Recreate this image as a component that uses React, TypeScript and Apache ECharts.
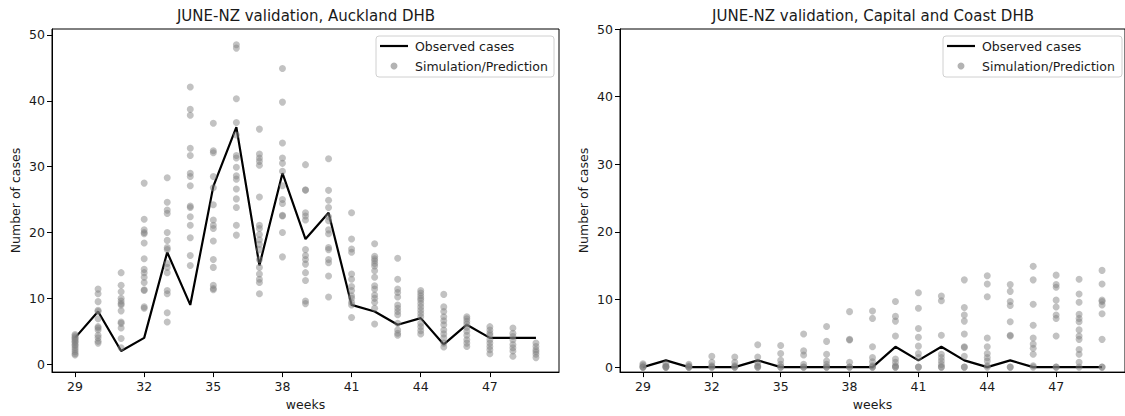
import React, { useEffect, useRef } from "react";
import * as echarts from "echarts";

const weeks = [29, 30, 31, 32, 33, 34, 35, 36, 37, 38, 39, 40, 41, 42, 43, 44, 45, 46, 47, 48, 49];
const xTicks = [29, 32, 35, 38, 41, 44, 47];
const yTicks = [0, 10, 20, 30, 40, 50];

const aucklandObserved = [4, 8, 2, 4, 17, 9, 27, 36, 15, 29, 19, 23, 9, 8, 6, 7, 3, 6, 4, 4, 4];
const capitalObserved = [0, 1, 0, 0, 0, 1, 0, 0, 0, 0, 0, 3, 1, 3, 1, 0, 1, 0, 0, 0, 0];

// simulated values, one list per week (29..49)
const aucklandSim = [
  [4.5, 4.3, 4.1, 3.9, 3.7, 3.5, 3.3, 3.0, 2.8, 2.5, 2.2, 1.9, 1.6, 1.4],
  [11.4, 10.7, 9.5, 8.2, 8.0, 6.9, 5.7, 5.5, 5.2, 4.4, 4.0, 3.5, 3.2],
  [13.9, 12.0, 11.0, 10.0, 9.6, 9.2, 9.0, 8.1, 6.4, 6.2, 5.5, 3.9, 2.5],
  [27.5, 22.0, 20.4, 20.0, 19.8, 18.4, 16.0, 14.4, 13.9, 13.2, 12.4, 11.3, 11.2, 8.7, 8.5],
  [28.3, 24.6, 23.4, 22.9, 20.0, 18.8, 17.7, 17.4, 15.3, 14.7, 13.9, 11.2, 10.7, 7.8, 6.4],
  [42.1, 38.7, 37.8, 32.8, 31.7, 29.0, 28.5, 27.1, 24.0, 23.8, 22.4, 21.1, 19.2, 16.5, 15.0],
  [36.6, 32.4, 32.1, 28.5, 26.8, 24.2, 21.9, 21.1, 20.6, 18.7, 15.9, 14.7, 12.0, 11.5, 11.3],
  [48.5, 48.0, 40.3, 36.7, 34.8, 31.7, 31.3, 29.9, 28.6, 28.1, 26.6, 25.1, 23.8, 21.1, 19.6],
  [35.7, 31.9, 31.3, 30.8, 30.2, 25.4, 21.1, 20.6, 19.7, 18.9, 18.2, 17.4, 15.9, 14.7, 13.7, 12.9, 12.4, 10.7],
  [44.9, 39.8, 33.6, 31.3, 30.5, 29.3, 27.1, 25.0, 24.4, 22.6, 22.5, 20.0, 16.3],
  [30.3, 26.5, 26.4, 23.0, 22.5, 21.9, 17.4, 16.5, 15.9, 15.2, 13.9, 12.7, 9.6, 9.2],
  [31.2, 26.4, 24.9, 23.8, 22.4, 21.8, 20.4, 19.8, 17.7, 17.4, 15.9, 15.4, 13.4, 10.2],
  [23.0, 19.0, 17.5, 17.0, 13.7, 12.9, 11.8, 11.2, 10.4, 10.0, 9.4, 9.0, 7.1],
  [18.3, 16.4, 16.0, 15.7, 15.3, 14.9, 14.2, 13.2, 11.9, 11.4, 10.5, 10.0, 9.4, 8.5, 6.1],
  [16.1, 12.9, 11.4, 10.9, 10.2, 9.0, 8.5, 8.0, 7.5, 6.2, 5.2, 4.7, 4.4],
  [11.2, 10.8, 10.4, 10.0, 9.7, 9.2, 8.7, 8.2, 7.7, 7.2, 6.2, 5.7, 5.1, 4.6],
  [10.6, 8.7, 8.0, 7.2, 6.6, 6.0, 5.2, 4.6, 4.0, 3.2, 2.6],
  [7.2, 6.9, 6.5, 6.1, 5.6, 5.0, 4.4, 3.7, 3.2, 2.7],
  [5.7, 5.2, 4.7, 4.4, 3.7, 3.2, 2.7, 2.2, 1.6],
  [5.5, 4.7, 4.2, 3.7, 3.0, 2.5, 2.0, 1.2],
  [3.2, 2.7, 2.2, 1.9, 1.5, 1.0],
];

const capitalSim = [
  [0.5, 0.3, 0, 0, 0],
  [0.5, 0.2, 0, 0, 0],
  [0.4, 0.2, 0, 0, 0],
  [1.6, 0.7, 0.2, 0, 0],
  [1.5, 0.7, 0.2, 0, 0],
  [3.3, 1.5, 0.7, 0.2, 0, 0],
  [3.2, 2.0, 1.0, 0.4, 0, 0],
  [4.9, 2.4, 1.8, 0.4, 0, 0],
  [6.0, 3.8, 1.9, 0.9, 0.4, 0, 0],
  [8.2, 4.1, 4.0, 0.7, 0, 0],
  [8.3, 7.2, 3.0, 1.4, 0.8, 0.2, 0, 0],
  [9.7, 7.5, 6.8, 4.6, 1.2, 0.7, 0.2, 0, 0],
  [11.0, 8.7, 5.7, 4.4, 3.1, 2.0, 1.4, 0, 0],
  [10.5, 9.8, 4.7, 1.9, 1.4, 0.9, 0.4, 0, 0],
  [12.9, 8.8, 7.7, 6.8, 4.9, 3.0, 2.9, 1.6, 0, 0],
  [13.5, 12.3, 10.4, 4.3, 3.0, 2.0, 1.4, 0.9, 0.2, 0],
  [12.2, 11.2, 9.7, 9.1, 6.7, 4.7, 4.6, 0, 0],
  [14.9, 12.9, 9.3, 6.2, 4.3, 3.4, 2.8, 1.9, 0.2, 0],
  [13.6, 12.2, 11.8, 9.9, 8.9, 7.7, 7.2, 4.6, 0, 0],
  [13.0, 10.8, 9.6, 7.8, 7.2, 6.7, 5.5, 4.6, 4.1, 2.6, 1.9, 0.7, 0],
  [14.3, 12.3, 9.9, 9.7, 9.2, 7.9, 4.1, 0, 0],
];

const FONT = "DejaVu Sans";
const TEXT = "#1a1a1a";
const DOT = "rgba(128,128,128,0.6)";

function simPoints(sim: number[][]) {
  const pts: number[][] = [];
  sim.forEach((vals, i) => vals.forEach((v) => pts.push([weeks[i], v])));
  return pts;
}

function obsPoints(obs: number[]) {
  return obs.map((v, i) => [weeks[i], v]);
}

function xAxis(gridIndex: number) {
  return {
    type: "value",
    gridIndex,
    min: 28,
    max: 50,
    name: "weeks",
    nameLocation: "middle",
    nameGap: 25,
    nameTextStyle: { fontFamily: FONT, fontSize: 12.5, color: TEXT },
    axisLine: { show: true, onZero: false, lineStyle: { color: "#000", width: 1 } },
    axisTick: { show: true, length: 5, customValues: xTicks, lineStyle: { color: "#000" } },
    axisLabel: { customValues: xTicks, margin: 8, fontFamily: FONT, fontSize: 12.5, color: TEXT },
    splitLine: { show: false },
  };
}

function yAxis(gridIndex: number, min: number, max: number) {
  return {
    type: "value",
    gridIndex,
    min,
    max,
    name: "Number of cases",
    nameLocation: "middle",
    nameGap: 30,
    nameTextStyle: { fontFamily: FONT, fontSize: 12.5, color: TEXT },
    axisLine: { show: true, onZero: false, lineStyle: { color: "#000", width: 1 } },
    axisTick: { show: true, length: 5, customValues: yTicks, lineStyle: { color: "#000" } },
    axisLabel: { customValues: yTicks, margin: 7, fontFamily: FONT, fontSize: 12.5, color: TEXT },
    splitLine: { show: false },
  };
}

function legendGraphic(x: number, y: number, w: number) {
  return [
    {
      type: "rect",
      shape: { x, y, width: w, height: 41, r: 3 },
      style: { fill: "rgba(255,255,255,0.85)", stroke: "#d0d0d0", lineWidth: 1 },
      z: 100,
    },
    {
      type: "line",
      shape: { x1: x + 4, y1: y + 10, x2: x + 32, y2: y + 10 },
      style: { stroke: "#000", lineWidth: 2.2 },
      z: 101,
    },
    {
      type: "circle",
      shape: { cx: x + 18, cy: y + 30, r: 3.5 },
      style: { fill: DOT },
      z: 101,
    },
    {
      type: "text",
      x: x + 39,
      y: y + 10,
      style: { text: "Observed cases", fontFamily: FONT, fontSize: 12.5, fill: TEXT, verticalAlign: "middle" },
      z: 101,
    },
    {
      type: "text",
      x: x + 39,
      y: y + 30,
      style: { text: "Simulation/Prediction", fontFamily: FONT, fontSize: 12.5, fill: TEXT, verticalAlign: "middle" },
      z: 101,
    },
  ];
}

export default function App() {
  const ref = useRef<HTMLDivElement>(null);
  useEffect(() => {
    if (!ref.current) return;
    const chart = echarts.init(ref.current, null, { renderer: "svg" });
    const option = {
      animation: false,
      backgroundColor: "#fff",
      title: [
        {
          text: "JUNE-NZ validation, Auckland DHB",
          left: 306,
          top: 8,
          padding: 0,
          textAlign: "center",
          textStyle: { fontFamily: FONT, fontSize: 15, fontWeight: "normal", color: TEXT },
        },
        {
          text: "JUNE-NZ validation, Capital and Coast DHB",
          left: 873,
          top: 8,
          padding: 0,
          textAlign: "center",
          textStyle: { fontFamily: FONT, fontSize: 15, fontWeight: "normal", color: TEXT },
        },
      ],
      grid: [
        { left: 52, top: 29, width: 507, height: 349, show: true, borderColor: "#000", borderWidth: 1, backgroundColor: "transparent" },
        { left: 620, top: 29, width: 506, height: 349, show: true, borderColor: "#000", borderWidth: 1, backgroundColor: "transparent" },
      ],
      xAxis: [xAxis(0), xAxis(1)],
      yAxis: [yAxis(0, -1.2, 50.9), yAxis(1, -0.74, 50)],
      series: [
        {
          name: "Observed cases",
          type: "line",
          xAxisIndex: 0,
          yAxisIndex: 0,
          data: obsPoints(aucklandObserved),
          showSymbol: false,
          lineStyle: { color: "#000", width: 2.2 },
          itemStyle: { color: "#000" },
          z: 2,
        },
        {
          name: "Simulation/Prediction",
          type: "scatter",
          xAxisIndex: 0,
          yAxisIndex: 0,
          data: simPoints(aucklandSim),
          symbolSize: 7,
          itemStyle: { color: DOT },
          z: 3,
        },
        {
          name: "Observed cases",
          type: "line",
          xAxisIndex: 1,
          yAxisIndex: 1,
          data: obsPoints(capitalObserved),
          showSymbol: false,
          lineStyle: { color: "#000", width: 2.2 },
          itemStyle: { color: "#000" },
          z: 2,
        },
        {
          name: "Simulation/Prediction",
          type: "scatter",
          xAxisIndex: 1,
          yAxisIndex: 1,
          data: simPoints(capitalSim),
          symbolSize: 7,
          itemStyle: { color: DOT },
          z: 3,
        },
      ],
      graphic: [...legendGraphic(376, 36, 178), ...legendGraphic(943, 36, 179)],
    };
    chart.setOption(option as any);
    return () => chart.dispose();
  }, []);
  return (
    <div
      ref={ref}
      style={{ position: "fixed", left: 0, top: 0, width: 1125, height: 416, background: "#fff" }}
    />
  );
}
